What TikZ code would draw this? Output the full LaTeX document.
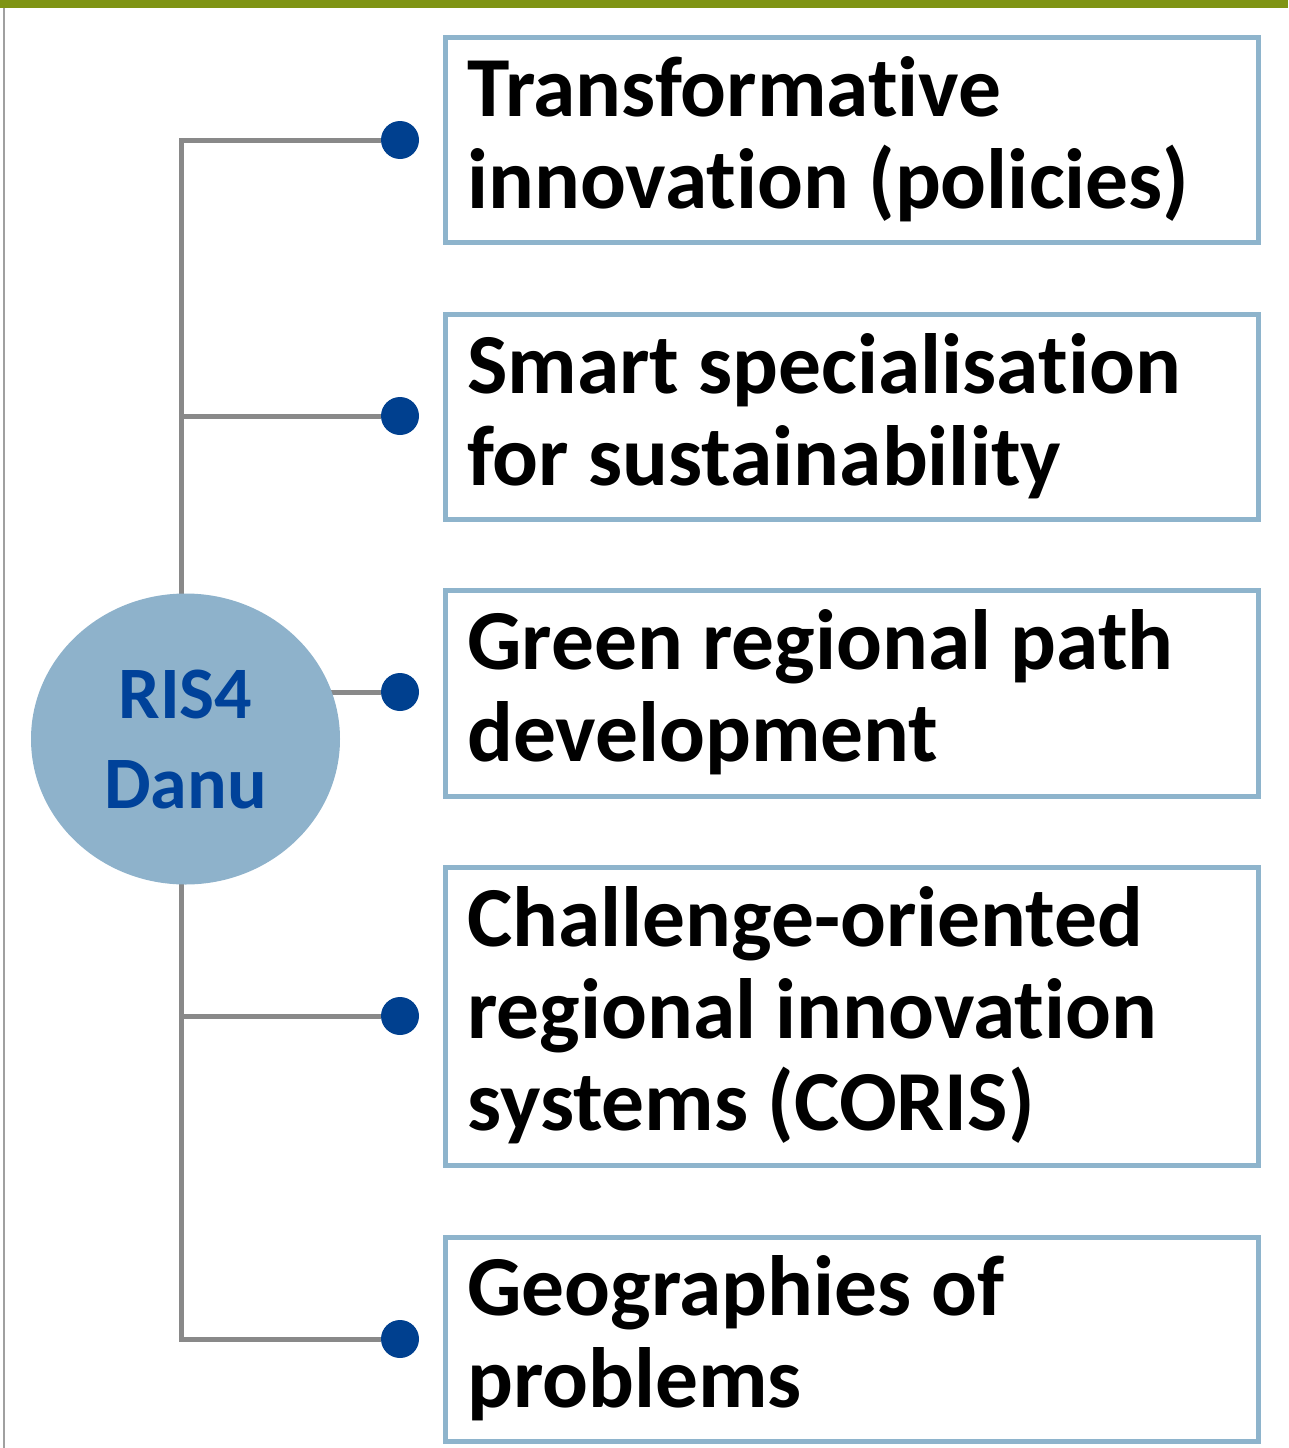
\documentclass[tikz,border=0pt]{standalone}
\usepackage{fontspec}
\setmainfont{Carlito}[Ligatures={NoCommon,NoContextual}]
\usetikzlibrary{shapes.geometric,backgrounds}
\definecolor{barGreen}{RGB}{127,148,20}
\definecolor{sideGray}{RGB}{160,160,160}
\definecolor{edgeGray}{RGB}{137,137,137}
\definecolor{dotBlue}{RGB}{0,64,143}
\definecolor{hubBlue}{RGB}{142,178,203}
\definecolor{hubText}{RGB}{0,66,154}
\definecolor{boxBlue}{RGB}{142,180,204}
\tikzset{
  topicbox/.style={draw=boxBlue, line width=5pt, minimum width=812.5pt, inner sep=0pt},
  topictext/.style={anchor=base west, inner sep=0pt, font=\fontsize{85.5}{92}\selectfont\bfseries},
  bulletdot/.style={circle, fill=dotBlue, minimum size=38pt, inner sep=0pt},
  hub/.style={ellipse, fill=hubBlue, minimum width=309pt, minimum height=291pt, inner sep=0pt,
    text=hubText, align=center, font=\fontsize{74}{90}\selectfont\bfseries},
  branch/.style={draw=edgeGray, line width=5pt},
}
\begin{document}
\begin{tikzpicture}[x=1pt,y=-1pt]
  \useasboundingbox (0,0) rectangle (1288,1448);
  \fill[barGreen] (0,0) rectangle (1288,8);
  \draw[sideGray, line width=2pt] (4,8) -- (4,1448);
  % boxes on the right
  \node[topicbox, minimum height=205pt] (box1) at (851.75,140) {};
  \node[topicbox, minimum height=204.5pt] (box2) at (851.75,416.75) {};
  \node[topicbox, minimum height=205.5pt] (box3) at (851.75,693.25) {};
  \node[topicbox, minimum height=297.5pt] (box4) at (851.75,1016.25) {};
  \node[topicbox, minimum height=204pt] (box5) at (851.75,1339) {};
  \node[topictext] (t1) at (467,116.5) {\parbox[t]{790pt}{Transformative\\innovation (policies)}};
  \node[topictext] (t2) at (467,393) {\parbox[t]{790pt}{Smart specialisation\\for sustainability}};
  \node[topictext] (t3) at (467,669) {\parbox[t]{790pt}{Green regional path\\development}};
  \node[topictext] (t4) at (467,946) {\parbox[t]{790pt}{Challenge-oriented\\regional innovation\\systems (CORIS)}};
  \node[topictext] (t5) at (467,1315.5) {\parbox[t]{790pt}{Geographies of\\problems}};
  % dots
  \node[bulletdot] (d1) at (400,140) {};
  \node[bulletdot] (d2) at (400,416) {};
  \node[bulletdot] (d3) at (400,692) {};
  \node[bulletdot] (d4) at (400,1016) {};
  \node[bulletdot] (d5) at (400,1339) {};
  \node[hub] (hub) at (185.5,739) {RIS4\\Danu};
  \coordinate (j1) at (181.5,140);
  \coordinate (j2) at (181.5,416);
  \coordinate (j4) at (181.5,1016);
  \coordinate (j5) at (181.5,1339);
  \begin{pgfonlayer}{background}
    \draw[branch] (d1) -- (j1) -- (j5) -- (d5);
    \draw[branch] (j2) -- (d2);
    \draw[branch] (j4) -- (d4);
    \draw[branch] (hub.center |- d3) -- (d3);
  \end{pgfonlayer}
\end{tikzpicture}
\end{document}
